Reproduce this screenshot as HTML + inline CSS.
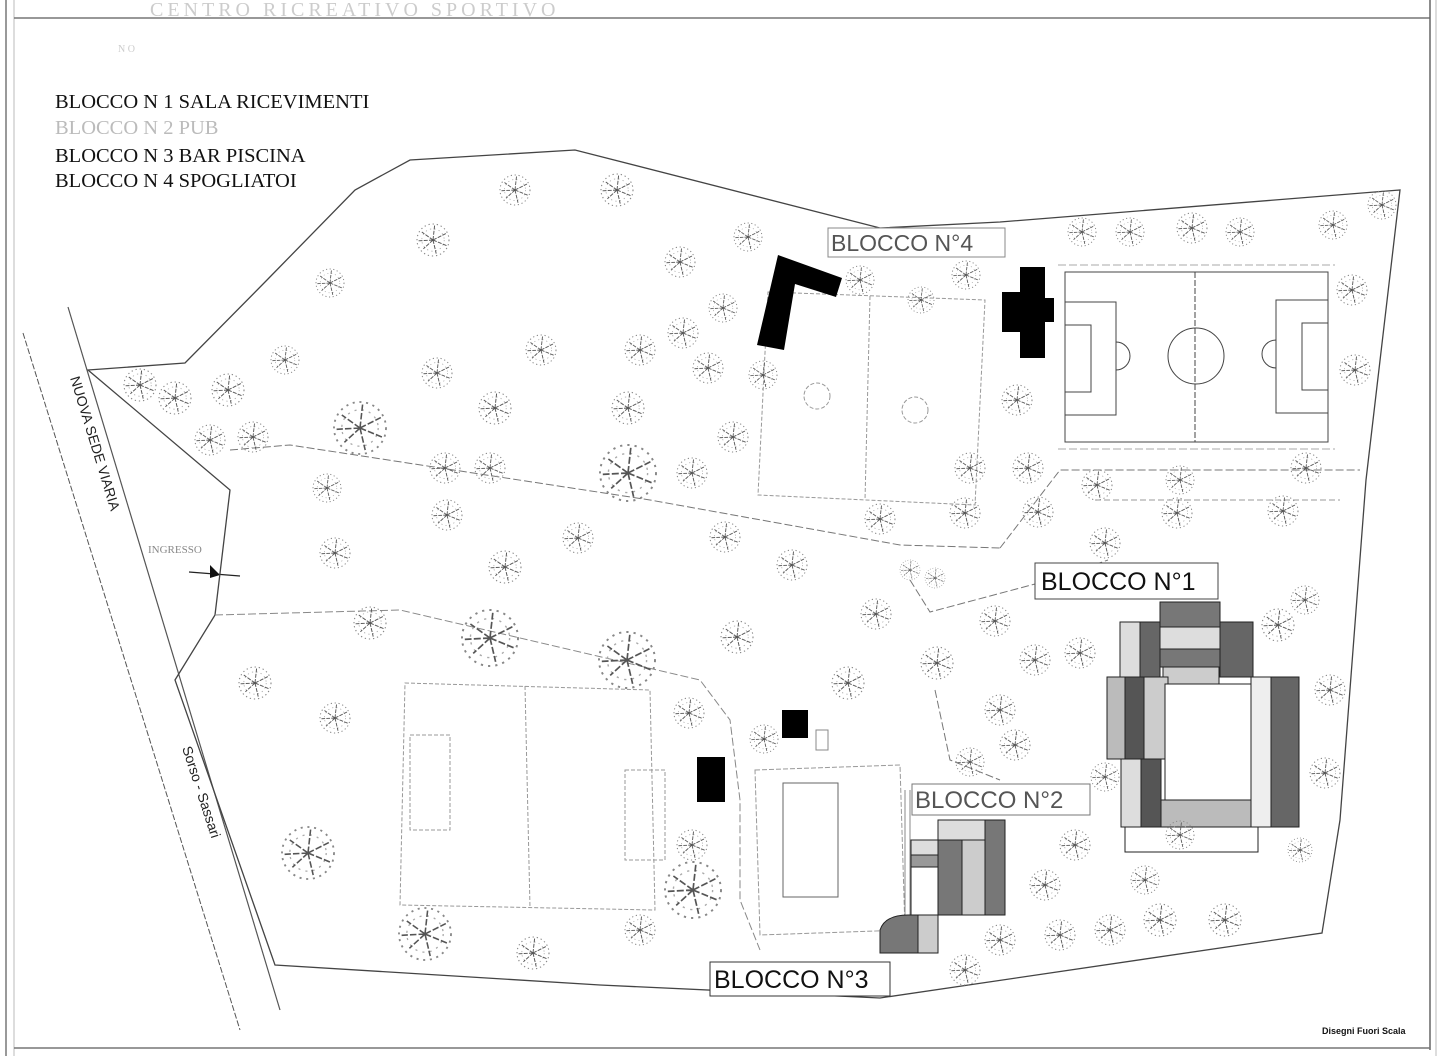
<!DOCTYPE html>
<html><head><meta charset="utf-8"><style>
html,body{margin:0;padding:0;background:#fff;}
svg{display:block;}
.lg{font-family:"Liberation Serif",serif;font-size:20.5px;fill:#111;}
.lb{font-family:"Liberation Sans",sans-serif;fill:#111;}
</style></head><body>
<svg width="1440" height="1056" viewBox="0 0 1440 1056" xmlns="http://www.w3.org/2000/svg">
<defs>
<g id="t">
<circle r="1" fill="none" stroke="#888" stroke-width="0.07" stroke-dasharray="0.08 0.18"/>
<circle r="0.7" fill="none" stroke="#aaa" stroke-width="0.05" stroke-dasharray="0.08 0.2"/>
<path d="M0 0L0.8 -0.4M0 0L-0.7 -0.5M0 0L0.2 0.85M0 0L-0.6 0.55M0 0L0.1 -0.9M0 0L0.85 0.35M0 0L-0.9 0.05" stroke="#555" stroke-width="0.06" stroke-dasharray="0.25 0.08"/>
</g>
</defs>
<!-- frame -->
<line x1="6" y1="0" x2="6" y2="1056" stroke="#999" stroke-width="2"/>
<line x1="14" y1="0" x2="14" y2="1056" stroke="#bbb" stroke-width="1"/>
<line x1="14" y1="18" x2="1430" y2="18" stroke="#777" stroke-width="1.5"/>
<line x1="1430" y1="0" x2="1430" y2="1050" stroke="#666" stroke-width="1.5"/>
<line x1="1436" y1="0" x2="1436" y2="1056" stroke="#bbb" stroke-width="1"/>
<line x1="14" y1="1048" x2="1430" y2="1048" stroke="#777" stroke-width="1.5"/>
<text x="150" y="16" font-family="Liberation Serif" font-size="20" fill="#ccc" letter-spacing="4">CENTRO RICREATIVO SPORTIVO</text>
<text x="118" y="52" font-family="Liberation Serif" font-size="10" fill="#ccc">N O</text>
<!-- legend -->
<text class="lg" x="55" y="108">BLOCCO N 1  SALA RICEVIMENTI</text>
<text class="lg" x="55" y="134" style="fill:#bbb">BLOCCO N 2  PUB</text>
<text class="lg" x="55" y="162">BLOCCO N 3 BAR PISCINA</text>
<text class="lg" x="55" y="187">BLOCCO N 4 SPOGLIATOI</text>
<!-- roads -->
<line x1="23" y1="333" x2="240" y2="1030" stroke="#555" stroke-width="1" stroke-dasharray="6 2"/>
<line x1="68" y1="307" x2="280" y2="1010" stroke="#555" stroke-width="1.2"/>
<text font-family="Liberation Sans" font-size="14" fill="#222" transform="translate(70,378) rotate(73)">NUOVA SEDE VIARIA</text>
<text font-family="Liberation Sans" font-size="14" fill="#222" transform="translate(182,748) rotate(72)">Sorso   -   Sassari</text>
<text x="148" y="553" font-family="Liberation Serif" font-size="11" fill="#888">INGRESSO</text>
<line x1="189" y1="572" x2="240" y2="576" stroke="#222" stroke-width="1.2"/>
<path d="M210 565L220 575L210 578Z" fill="#111"/>
<!-- boundary -->
<path d="M88 370L185 363L267 280L355 190L410 160L575 150L880 228L1000 222L1400 190L1366 480L1340 820L1322 933L880 998L600 985L275 965L175 680L215 615L230 490Z" fill="none" stroke="#444" stroke-width="1.3"/>
<!-- inner dashed paths -->
<path d="M230 450L290 445L650 500L900 545L1000 548M1000 548L1060 470L1360 470" fill="none" stroke="#777" stroke-width="1" stroke-dasharray="8 3"/>
<path d="M215 615L400 610L700 680L730 720L740 800L740 900L760 950" fill="none" stroke="#888" stroke-width="1" stroke-dasharray="8 3"/>
<path d="M910 580L930 612L1050 580L1108 560M935 690L950 760L1000 780" fill="none" stroke="#777" stroke-width="1" stroke-dasharray="8 3"/>
<line x1="1095" y1="500" x2="1340" y2="500" stroke="#999" stroke-dasharray="6 3"/>
<!-- five-a-side fields -->
<g fill="none" stroke="#999" stroke-width="1" stroke-dasharray="4 2">
<path d="M768 292L985 300L975 505L758 495Z"/>
<line x1="870" y1="296" x2="865" y2="500"/>
<circle cx="817" cy="396" r="13"/><circle cx="915" cy="410" r="13"/>
<path d="M405 683L650 690L655 910L400 905Z"/>
<path d="M525 686L530 908"/>
<rect x="410" y="735" width="40" height="95"/>
<rect x="625" y="770" width="40" height="90"/>
</g>
<!-- soccer field -->
<g fill="none" stroke="#444" stroke-width="1">
<rect x="1065" y="272" width="263" height="170"/>
<line x1="1195" y1="272" x2="1195" y2="442" stroke-dasharray="6 2"/>
<circle cx="1196" cy="356" r="28"/>
<rect x="1065" y="302" width="51" height="113"/>
<rect x="1065" y="325" width="26" height="67"/>
<rect x="1276" y="300" width="52" height="113"/>
<rect x="1302" y="323" width="26" height="67"/>
<path d="M1116 342A14 14 0 0 1 1116 370"/>
<path d="M1276 340A14 14 0 0 0 1276 368"/>
</g>
<line x1="1058" y1="265" x2="1335" y2="265" stroke="#aaa" stroke-dasharray="8 3"/>
<line x1="1058" y1="449" x2="1335" y2="449" stroke="#aaa" stroke-dasharray="8 3"/>
<!-- black blocks -->
<path d="M778 255L842 278L836 297L795 284L784 350L757 345Z" fill="#000"/>
<path d="M1020 267L1045 267L1045 298L1054 298L1054 322L1045 322L1045 358L1020 358L1020 332L1002 332L1002 292L1020 292Z" fill="#000"/>
<rect x="782" y="710" width="26" height="28" fill="#000"/>
<rect x="697" y="757" width="28" height="45" fill="#000"/>
<!-- pool area -->
<g fill="none" stroke="#666" stroke-width="1">
<rect x="783" y="783" width="55" height="114"/>
<path d="M755 770L900 765L905 930L760 935Z" stroke="#999" stroke-dasharray="5 2"/>
<rect x="816" y="730" width="12" height="20" stroke="#888"/>
</g>
<line x1="905" y1="790" x2="905" y2="915" stroke="#888"/>
<line x1="910" y1="790" x2="910" y2="915" stroke="#888"/>
<!-- Blocco 2 -->
<g stroke="#222" stroke-width="1">
<rect x="938" y="820" width="62" height="20" fill="#ddd"/>
<path d="M985 820L1005 820L1005 915L985 915L985 840Z" fill="#777"/>
<rect x="938" y="840" width="24" height="75" fill="#777"/>
<rect x="962" y="840" width="23" height="75" fill="#ccc"/>
<rect x="911" y="840" width="27" height="15" fill="#ddd"/>
<rect x="911" y="855" width="27" height="12" fill="#999"/>
<rect x="911" y="867" width="27" height="48" fill="#fff"/>
<path d="M880 953L880 930Q885 915 908 915L918 915L918 953Z" fill="#777"/>
<rect x="918" y="915" width="20" height="38" fill="#ccc"/>
</g>
<!-- Blocco 1 -->
<g stroke="#222" stroke-width="1">
<rect x="1160" y="602" width="60" height="25" fill="#777"/>
<rect x="1160" y="627" width="60" height="22" fill="#ddd"/>
<rect x="1160" y="649" width="60" height="18" fill="#777"/>
<rect x="1163" y="667" width="56" height="17" fill="#ccc"/>
<rect x="1220" y="622" width="33" height="55" fill="#666"/>
<rect x="1120" y="622" width="20" height="55" fill="#ddd"/>
<rect x="1140" y="622" width="20" height="55" fill="#666"/>
<rect x="1107" y="677" width="18" height="82" fill="#bbb"/>
<rect x="1125" y="677" width="19" height="82" fill="#555"/>
<rect x="1144" y="677" width="24" height="82" fill="#ccc"/>
<rect x="1121" y="759" width="20" height="68" fill="#ddd"/>
<rect x="1141" y="759" width="20" height="68" fill="#555"/>
<rect x="1161" y="800" width="120" height="27" fill="#bbb"/>
<rect x="1251" y="677" width="20" height="150" fill="#eee"/>
<rect x="1271" y="677" width="28" height="150" fill="#666"/>
<rect x="1165" y="684" width="86" height="116" fill="#fff"/>
<rect x="1125" y="827" width="133" height="25" fill="#fff"/>
</g>
<!-- trees -->
<g>
<use href="#t" transform="translate(515,190) scale(15)"/>
<use href="#t" transform="translate(617,190) scale(16)"/>
<use href="#t" transform="translate(433,240) scale(16)"/>
<use href="#t" transform="translate(748,237) scale(14)"/>
<use href="#t" transform="translate(680,262) scale(15)"/>
<use href="#t" transform="translate(860,280) scale(14)"/>
<use href="#t" transform="translate(966,275) scale(14)"/>
<use href="#t" transform="translate(1082,232) scale(14)"/>
<use href="#t" transform="translate(1130,232) scale(14)"/>
<use href="#t" transform="translate(1192,228) scale(15)"/>
<use href="#t" transform="translate(1240,232) scale(14)"/>
<use href="#t" transform="translate(1333,225) scale(14)"/>
<use href="#t" transform="translate(1382,205) scale(14)"/>
<use href="#t" transform="translate(330,283) scale(14)"/>
<use href="#t" transform="translate(921,300) scale(13)"/>
<use href="#t" transform="translate(723,308) scale(14)"/>
<use href="#t" transform="translate(640,350) scale(15)"/>
<use href="#t" transform="translate(683,333) scale(15)"/>
<use href="#t" transform="translate(708,368) scale(15)"/>
<use href="#t" transform="translate(763,375) scale(14)"/>
<use href="#t" transform="translate(541,350) scale(15)"/>
<use href="#t" transform="translate(437,373) scale(15)"/>
<use href="#t" transform="translate(285,360) scale(14)"/>
<use href="#t" transform="translate(140,385) scale(16)"/>
<use href="#t" transform="translate(175,398) scale(16)"/>
<use href="#t" transform="translate(228,390) scale(16)"/>
<use href="#t" transform="translate(210,440) scale(15)"/>
<use href="#t" transform="translate(253,437) scale(15)"/>
<use href="#t" transform="translate(360,428) scale(26)"/>
<use href="#t" transform="translate(495,408) scale(16)"/>
<use href="#t" transform="translate(628,408) scale(16)"/>
<use href="#t" transform="translate(733,437) scale(15)"/>
<use href="#t" transform="translate(628,473) scale(28)"/>
<use href="#t" transform="translate(445,468) scale(15)"/>
<use href="#t" transform="translate(490,468) scale(15)"/>
<use href="#t" transform="translate(692,473) scale(15)"/>
<use href="#t" transform="translate(970,468) scale(15)"/>
<use href="#t" transform="translate(1028,468) scale(15)"/>
<use href="#t" transform="translate(1097,485) scale(15)"/>
<use href="#t" transform="translate(1180,480) scale(14)"/>
<use href="#t" transform="translate(1306,468) scale(15)"/>
<use href="#t" transform="translate(1352,290) scale(15)"/>
<use href="#t" transform="translate(1355,370) scale(15)"/>
<use href="#t" transform="translate(1017,400) scale(15)"/>
<use href="#t" transform="translate(327,488) scale(14)"/>
<use href="#t" transform="translate(578,538) scale(15)"/>
<use href="#t" transform="translate(447,515) scale(15)"/>
<use href="#t" transform="translate(505,567) scale(16)"/>
<use href="#t" transform="translate(335,553) scale(15)"/>
<use href="#t" transform="translate(725,537) scale(15)"/>
<use href="#t" transform="translate(792,565) scale(15)"/>
<use href="#t" transform="translate(880,519) scale(15)"/>
<use href="#t" transform="translate(965,513) scale(15)"/>
<use href="#t" transform="translate(1038,512) scale(15)"/>
<use href="#t" transform="translate(1105,543) scale(15)"/>
<use href="#t" transform="translate(1177,513) scale(15)"/>
<use href="#t" transform="translate(1283,511) scale(15)"/>
<use href="#t" transform="translate(910,570) scale(10)"/>
<use href="#t" transform="translate(935,578) scale(10)"/>
<use href="#t" transform="translate(876,614) scale(15)"/>
<use href="#t" transform="translate(995,621) scale(15)"/>
<use href="#t" transform="translate(1035,660) scale(15)"/>
<use href="#t" transform="translate(1080,653) scale(15)"/>
<use href="#t" transform="translate(1278,625) scale(16)"/>
<use href="#t" transform="translate(1305,600) scale(14)"/>
<use href="#t" transform="translate(1330,690) scale(15)"/>
<use href="#t" transform="translate(737,637) scale(16)"/>
<use href="#t" transform="translate(848,683) scale(16)"/>
<use href="#t" transform="translate(937,663) scale(16)"/>
<use href="#t" transform="translate(370,623) scale(16)"/>
<use href="#t" transform="translate(490,638) scale(28)"/>
<use href="#t" transform="translate(627,660) scale(28)"/>
<use href="#t" transform="translate(255,683) scale(16)"/>
<use href="#t" transform="translate(335,718) scale(15)"/>
<use href="#t" transform="translate(689,713) scale(15)"/>
<use href="#t" transform="translate(764,739) scale(14)"/>
<use href="#t" transform="translate(1000,710) scale(15)"/>
<use href="#t" transform="translate(1015,745) scale(15)"/>
<use href="#t" transform="translate(970,762) scale(14)"/>
<use href="#t" transform="translate(1075,845) scale(15)"/>
<use href="#t" transform="translate(1105,777) scale(14)"/>
<use href="#t" transform="translate(1180,835) scale(14)"/>
<use href="#t" transform="translate(1325,773) scale(15)"/>
<use href="#t" transform="translate(1300,850) scale(12)"/>
<use href="#t" transform="translate(1225,920) scale(16)"/>
<use href="#t" transform="translate(1160,920) scale(16)"/>
<use href="#t" transform="translate(1110,930) scale(15)"/>
<use href="#t" transform="translate(1060,935) scale(15)"/>
<use href="#t" transform="translate(1145,880) scale(14)"/>
<use href="#t" transform="translate(1045,885) scale(15)"/>
<use href="#t" transform="translate(1000,940) scale(15)"/>
<use href="#t" transform="translate(965,970) scale(15)"/>
<use href="#t" transform="translate(308,853) scale(26)"/>
<use href="#t" transform="translate(425,934) scale(26)"/>
<use href="#t" transform="translate(533,953) scale(16)"/>
<use href="#t" transform="translate(693,890) scale(28)"/>
<use href="#t" transform="translate(692,845) scale(15)"/>
<use href="#t" transform="translate(640,930) scale(15)"/>
</g>
<!-- labels -->
<g class="lb">
<rect x="828" y="228" width="177" height="29" fill="#fff" stroke="#888"/>
<text x="831" y="251" font-size="23" style="fill:#555">BLOCCO N°4</text>
<rect x="1035" y="563" width="183" height="36" fill="#fff" stroke="#444"/>
<text x="1041" y="590" font-size="25">BLOCCO N°1</text>
<rect x="912" y="784" width="178" height="31" fill="#fff" stroke="#777"/>
<text x="915" y="808" font-size="24" style="fill:#555">BLOCCO N°2</text>
<rect x="710" y="962" width="180" height="34" fill="#fff" stroke="#333"/>
<text x="714" y="988" font-size="25">BLOCCO N°3</text>
<text x="1322" y="1034" font-size="9" font-weight="bold">Disegni Fuori Scala</text>
</g>
</svg>
</body></html>
